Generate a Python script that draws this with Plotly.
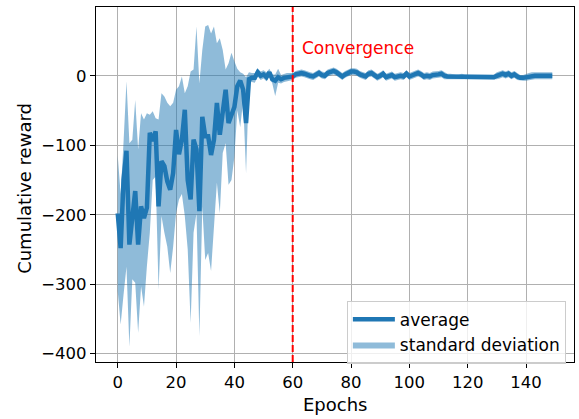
import plotly.graph_objects as go

epochs = list(range(150))

average = [
    -198, -248, -150, -108, -243, -200, -166, -243, -188, -205,
    -190, -82, -94, -80, -188, -123, -130, -152, -164, -140,
    -78, -113, -92, -49, -150, -178, -92, -106, -195, -59,
    -87, -87, -114, -92, -39, -85, -54, -20, -68, -54,
    -45, -15, -7, -20, -68, -5, -3, -3, 5, 0,
    2, -2, 5, -5, -7, -2, -5, -3, -2, -2,
    -1, 2, 3, 4, 3, 1, 0, -1, 2, 4,
    1, 0, 4, 5, 7, 5, 2, -1, 2, 4,
    6, 6, 5, 2, 0, -1, 3, 4, 1, -2,
    0, 3, -2, 0, 1, -2, -1, 0, -1, 3,
    -1, 1, 2, 4, 2, -1, 0, -1, 1, 1,
    2, 3, 0, -1, -1, -2, -2, -2, -1, -2,
    -2, -1, -2, -1, -2, -1, -2, -2, -1, -2,
    0, 1, 3, 1, 3, 0, 2, -1, -3, -3,
    -2, -1, 0, 0, 0, 0, 0, 0, 0, 0,
]

band_upper = [
    -115, -170, -95, -8, -97, -92, -35, -106, -54, -63,
    -54, -56, -51, -61, -63, -25, -30, -39, -44, -39,
    -20, -15, -1, -25, -15, 6, 9, 71, -11, 37,
    71, 73, 61, 71, 47, 54, 37, 9, 18, 33,
    21, 10, 5, 3, -2, 5, 4, 4, 10, 6,
    8, 5, 10, 2, 2, 10, 1, 3, 4, 4,
    4, 7, 8, 9, 8, 6, 5, 4, 7, 9,
    6, 5, 9, 10, 12, 10, 7, 4, 7, 9,
    11, 11, 10, 7, 5, 4, 8, 9, 6, 3,
    5, 8, 3, 5, 6, 3, 4, 5, 4, 8,
    4, 6, 7, 9, 7, 4, 5, 4, 6, 6,
    7, 8, 5, 3, 3, 2, 2, 2, 3, 2,
    2, 3, 2, 3, 2, 3, 2, 2, 3, 2,
    5, 6, 8, 6, 8, 5, 7, 4, 1, 1,
    3, 4, 5, 5, 5, 5, 5, 5, 5, 5,
]

band_lower = [
    -310, -358, -315, -275, -390, -293, -298, -370, -303, -332,
    -274, -226, -150, -145, -308, -202, -226, -246, -284, -246,
    -198, -178, -170, -202, -250, -356, -226, -198, -375, -188,
    -265, -255, -281, -217, -154, -198, -111, -97, -157, -150,
    -117, -50, -74, -36, -140, -10, -9, -10, -1, -6,
    -4, -8, -1, -11, -29, -10, -11, -9, -8, -8,
    -6, -3, -2, -1, -2, -4, -5, -6, -3, -1,
    -4, -5, -1, 0, 2, 0, -3, -6, -3, -1,
    1, 1, 0, -3, -5, -6, -2, -1, -4, -7,
    -5, -2, -7, -5, -4, -7, -6, -5, -6, -2,
    -6, -4, -3, -1, -3, -6, -5, -6, -4, -4,
    -3, -2, -5, -5, -5, -6, -6, -6, -5, -6,
    -6, -5, -6, -5, -6, -5, -6, -6, -5, -6,
    -5, -4, -2, -4, -2, -5, -3, -6, -7, -7,
    -7, -6, -5, -5, -5, -5, -5, -5, -5, -5,
]

x_ticks = [0, 20, 40, 60, 80, 100, 120, 140]
y_ticks = [-400, -300, -200, -100, 0]
x_title = "Epochs"
y_title = "Cumulative reward"
convergence_epoch = 60
convergence_label = "Convergence"
label_epoch = 62.6
label_value = 40

BLUE = "#1f77b4"
FONT = "DejaVu Sans"

fig = go.Figure()
fig.add_trace(go.Scatter(
    x=epochs, y=band_lower, mode="lines", line=dict(width=0),
    showlegend=False, hoverinfo="skip"))
fig.add_trace(go.Scatter(
    x=epochs, y=band_upper, mode="lines", line=dict(width=0),
    fill="tonexty", fillcolor="rgba(31,119,180,0.5)",
    name="standard deviation", legendrank=2))
fig.add_trace(go.Scatter(
    x=epochs, y=average, mode="lines", line=dict(color=BLUE, width=4.5),
    name="average", legendrank=1))

fig.add_vline(x=convergence_epoch, line=dict(color="red", width=2, dash="7px,3px"))
fig.add_annotation(x=label_epoch, y=label_value, text=convergence_label,
                   showarrow=False, xanchor="left", yanchor="middle",
                   font=dict(color="red", size=17, family=FONT))

# axis titles placed as paper annotations to match positions
fig.add_annotation(xref="paper", yref="paper", x=-0.151, y=0.49, text=y_title,
                   textangle=-90, showarrow=False, xanchor="center", yanchor="middle",
                   font=dict(size=18, color="black", family=FONT))
fig.add_annotation(xref="paper", yref="paper", x=0.5, y=-0.121, text=x_title,
                   showarrow=False, xanchor="center", yanchor="middle",
                   font=dict(size=18, color="black", family=FONT))

axis_common = dict(
    showline=True, mirror=True, linecolor="black", linewidth=1.3,
    ticks="outside", ticklen=5, tickwidth=1.2, tickcolor="black",
    showgrid=True, gridcolor="#b0b0b0", gridwidth=1.3, zeroline=False,
    automargin=False,
    tickfont=dict(size=16.5, color="black", family=FONT),
)

fig.update_xaxes(range=[-7.45, 156.45], tickvals=x_ticks, **axis_common)
fig.update_yaxes(range=[-412, 99], tickvals=y_ticks, **axis_common)

fig.update_layout(
    width=579, height=419,
    margin=dict(l=96, r=5, t=7, b=57),
    paper_bgcolor="white", plot_bgcolor="white",
    font=dict(family=FONT, color="black"),
    legend=dict(x=0.983, y=-0.005, xanchor="right", yanchor="bottom",
                traceorder="normal", itemwidth=42,
                bgcolor="rgba(255,255,255,0.8)", bordercolor="#cccccc", borderwidth=1,
                font=dict(size=17, family=FONT, color="black")),
)

fig.write_html("out.html", config={"displayModeBar": False},
               post_script="document.body.style.margin='0';document.body.style.overflow='hidden';")
